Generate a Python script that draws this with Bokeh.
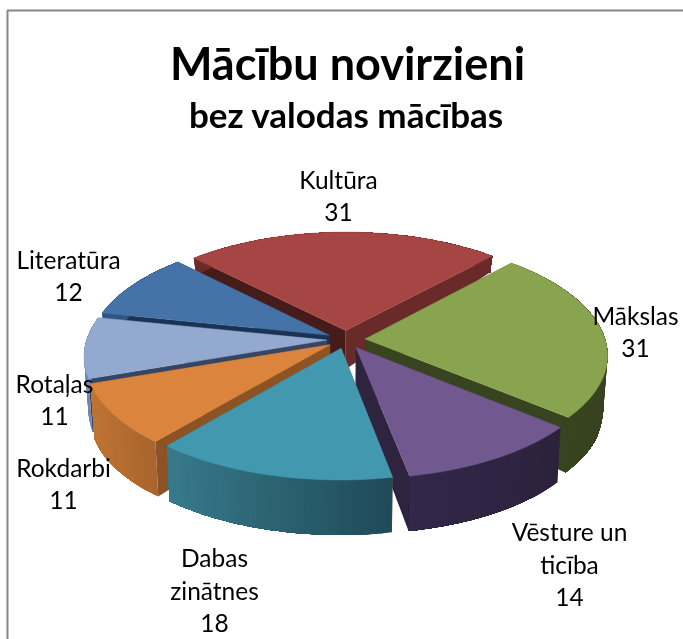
import math
from bokeh.plotting import figure
from bokeh.models import Range1d
from bokeh.core.properties import value
from bokeh.embed import file_html
from bokeh.resources import INLINE

title_main = "Mācību novirzieni"
title_sub = "bez valodas mācības"
names = ["Kultūra", "Mākslas", "Vēsture un\nticība", "Dabas\nzinātnes", "Rokdarbi", "Rotaļas", "Literatūra"]
values = [31, 31, 14, 18, 11, 11, 12]
tops = ["#A64644", "#88A44E", "#71588F", "#4198AF", "#DB843D", "#93A9CF", "#4572A7"]
cut_left = ["#451C1A", "#38431F", "#2E2440", "#8C5425", "#8C5425", "#364561", "#1A3253"]
cut_right = ["#6B2A2A", "#38431F", "#2E2440", "#2E6E80", "#8C5425", "#364561", "#1A3253"]
wall_from = ["#6B2A2A", "#3F4A20", "#33274A", "#387A8B", "#BF7433", "#6C87B3", "#2F5585"]
wall_to = ["#6B2A2A", "#38431F", "#2C223C", "#1F4A59", "#A9652E", "#6C87B3", "#2F5585"]
label_pos = [(338, 179), (635, 315), (569, 531), (214, 557), (63, 467), (54, 383), (68, 259)]

CX, CY, R, SQ, KX, KY, EXPL, START = 345.5, 339, 240, 0.47, 0.135, 0.125, 0.08, -44.5
W, H = 683, 639


def project(u, v):
    return CX + R * u / (1 + KX * v), CY - R * SQ * v / (1 + KY * v)


def drop(x, y):
    h = min(55, 17 + (y - 258) * 0.3)
    return x + (CX - x) * 0.015, y + h


def hexmix(a, b, t):
    pa = [int(a[i:i + 2], 16) for i in (1, 3, 5)]
    pb = [int(b[i:i + 2], 16) for i in (1, 3, 5)]
    return "#%02X%02X%02X" % tuple(round(x + (y - x) * t) for x, y in zip(pa, pb))


p = figure(width=W, height=H, x_range=Range1d(0, W), y_range=Range1d(H, 0),
           output_backend="svg", toolbar_location=None, min_border=0,
           outline_line_color=None, background_fill_color="white",
           border_fill_color="white")
p.axis.visible = False
p.grid.visible = False
p.styles = {"position": "fixed", "left": "0px", "top": "0px"}

p.line([7, 7, W], [H, 10, 10], line_color="#868686", line_width=2)

total = sum(values)
angles = []
a = START
for val in values:
    angles.append((a, a + val / total * 360))
    a += val / total * 360

# painter's order: far slices first
order = sorted(range(len(values)), key=lambda i: math.cos(math.radians(sum(angles[i]) / 2)), reverse=True)

for i in order:
    a0, a1 = angles[i]
    mid = math.radians((a0 + a1) / 2)
    ou, ov = EXPL * math.sin(mid), EXPL * math.cos(mid)
    steps = max(6, int(a1 - a0))
    arc = []
    for s in range(steps + 1):
        t = math.radians(a0 + (a1 - a0) * s / steps)
        arc.append(project(ou + math.sin(t), ov + math.cos(t)))
    apex = project(ou, ov)

    xs, ys, cs = [], [], []
    # cut faces
    for pt, col in ((arc[0], cut_left[i]), (arc[-1], cut_right[i])):
        q0, q1 = drop(*apex), drop(*pt)
        xs.append([apex[0], pt[0], q1[0], q0[0]])
        ys.append([apex[1], pt[1], q1[1], q0[1]])
        cs.append(col)
    # outer wall as overlapping shaded strips, so no seams show
    lft, rgt = min(arc[0][0], arc[-1][0]), max(arc[0][0], arc[-1][0])
    for s in range(steps):
        e = arc[s:]
        b = [drop(*q) for q in e]
        xs.append([q[0] for q in e] + [q[0] for q in reversed(b)])
        ys.append([q[1] for q in e] + [q[1] for q in reversed(b)])
        tt = min(1, max(0, (arc[s][0] - lft) / max(1, rgt - lft)))
        cs.append(hexmix(wall_from[i], wall_to[i], tt))
    p.patches(xs, ys, fill_color=cs, line_color=None)
    p.patch([apex[0]] + [q[0] for q in arc], [apex[1]] + [q[1] for q in arc],
            fill_color=tops[i], line_color=tops[i], line_width=0.5)

FONT = value("Lato")
p.text([347], [62], text=[title_main], text_font=FONT, text_font_size="45px",
       text_font_style="bold", text_align="center", text_baseline="middle", text_color="black")
p.text([346], [113], text=[title_sub], text_font=FONT, text_font_size="35px",
       text_font_style="bold", text_align="center", text_baseline="middle", text_color="black")

for name, val, (lx, ly) in zip(names, values, label_pos):
    lines = name.split("\n") + [str(val)]
    p.text([lx] * len(lines), [ly + 32.5 * j for j in range(len(lines))], text=lines,
           text_font=FONT, text_font_size="24.5px", text_align="center",
           text_baseline="middle", text_color="black")

open("out.html", "w").write(file_html(p, INLINE))
